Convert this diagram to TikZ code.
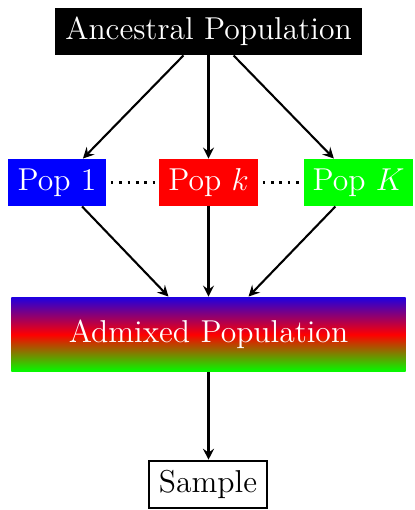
\documentclass[tikz,border=0pt]{standalone}
\usetikzlibrary{calc,arrows.meta}
\begin{document}
\begin{tikzpicture}[x=0.455pt,y=-0.455pt,
  box/.style={font=\Large, text=white, inner sep=0pt, minimum height=21.4pt},
  arr/.style={-{Stealth[length=5pt,width=5pt,inset=1.8pt]}, line width=0.95pt},
  dots/.style={dash pattern=on 1.2pt off 2.6pt, line width=1.1pt, shorten <=2pt, shorten >=1pt}]
\useasboundingbox (0,0) rectangle (414,510);
\node[box, fill=black, minimum width=139.7pt] (anc) at (208.5,31.5) {Ancestral Population};
\node[box, fill=blue, minimum width=44.6pt] (p1) at (57,182.5) {Pop 1};
\node[box, fill=red, minimum width=45pt] (pk) at (208.5,182.5) {Pop $k$};
\node[box, fill=green, minimum width=49.6pt] (pK) at (358.5,182.5) {Pop $K$};
\node[box, top color=blue!88!red, bottom color=green, middle color=red, minimum width=179.3pt, minimum height=34.1pt] (adm) at (208.5,334.5) {Admixed Population};
\node[font=\Large, draw=black, line width=0.95pt, inner sep=0pt, minimum width=54pt, minimum height=21.6pt] (smp) at (208,484.5) {Sample};
\draw[arr] ([xshift=-11.4pt]anc.south) -- ([xshift=11.8pt]p1.north);
\draw[arr] (anc.south) -- (pk.north);
\draw[arr] ([xshift=11.4pt]anc.south) -- ([xshift=-11.2pt]pK.north);
\draw[dots] (p1.east) -- (pk.west);
\draw[dots] (pk.east) -- (pK.west);
\draw[arr] ([xshift=11.4pt]p1.south) -- ([xshift=-18.2pt]adm.north);
\draw[arr] (pk.south) -- (pk.south |- adm.north);
\draw[arr] ([xshift=-10.5pt]pK.south) -- ([xshift=18.2pt]adm.north);
\draw[arr] (adm.south) -- (adm.south |- smp.north);
\end{tikzpicture}
\end{document}
